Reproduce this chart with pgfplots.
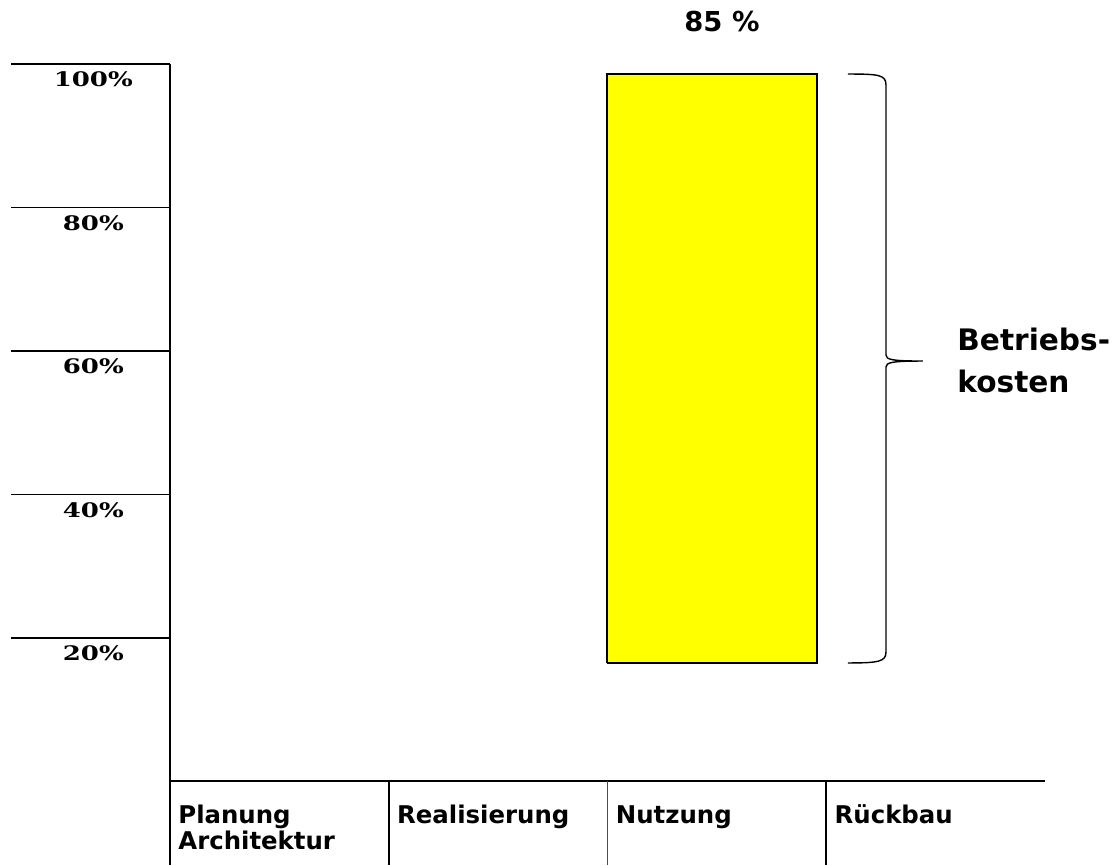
\documentclass[border=0pt]{standalone}
\usepackage{fontspec}
\setmainfont{DejaVu Sans}
\newfontfamily\tickfont{DejaVu Serif}
\usepackage{graphicx}
\usepackage{pgfplots}
\pgfplotsset{compat=1.18}
\definecolor{barYellow}{RGB}{255,255,0}
\newcommand{\xs}{\rule{0pt}{0.95em}}
\begin{document}
\begin{tikzpicture}
\begin{axis}[
  scale only axis, width=437.5pt, height=358.75pt,
  xmin=0, xmax=4, ymin=0, ymax=100, enlargelimits=false, clip=false,
  axis lines=left, axis line style={-, line width=1pt, black},
  ytick={20,40,60,80,100},
  yticklabels={\scalebox{1.3}[1]{20\%},\scalebox{1.3}[1]{40\%},\scalebox{1.3}[1]{60\%},\scalebox{1.3}[1]{80\%},\scalebox{1.3}[1]{100\%}},
  ytick align=outside, major tick length=79.5pt,
  ytick style={line width=0.8pt, black},
  yticklabel style={font=\tickfont\bfseries\fontsize{10}{10}\selectfont, anchor=center, inner sep=0pt, xshift=41.15pt, yshift=-7.65pt},
  xtick={0,1,2,3},
  xtick align=inside,
  xtick style={draw=none},
  xticklabels={{\xs Planung\\Architektur},\xs Realisierung,\xs Nutzung,\xs Rückbau},
  xticklabel style={font=\bfseries\fontsize{12.2}{11.8}\selectfont, anchor=north west, align=left, inner sep=0pt, xshift=4pt, yshift=-9.4pt},
]
\addplot[fill=barYellow, draw=black, line width=1pt] coordinates {(2,16.5) (2.96,16.5) (2.96,98.6) (2,98.6) (2,16.5)};
% extended lines below the axis
\draw[line width=1pt] (0,0) -- (0,-11.64);
\draw[line width=1pt] (1,0) -- (1,-11.64);
\draw[line width=0.8pt, black!70] (2,0) -- (2,-11.64);
\draw[line width=1pt] (3,0) -- (3,-11.64);
% brace
\draw[line width=0.7pt] (3.0994,98.6) .. controls (3.24,98.6) and (3.2731,98.5) .. (3.2731,97.07) -- (3.2731,59.44) .. controls (3.2731,58.8) and (3.30,58.6) .. (3.4423,58.6) .. controls (3.30,58.6) and (3.2731,58.4) .. (3.2731,57.77) -- (3.2731,18.05) .. controls (3.2731,16.7) and (3.24,16.52) .. (3.0994,16.52);
\node[anchor=north west, inner sep=0pt, align=left, font=\bfseries\fontsize{14.8}{21}\selectfont] at (3.5977,63.27) {Betriebs-\\kosten};
\node[anchor=base, inner sep=0pt, font=\bfseries\fontsize{13.7}{16}\selectfont] at (2.5234,104.5) {85 \%};
\coordinate (tl) at (-0.7771,108.92);
\coordinate (br) at (4.3429,-11.64);
\end{axis}
\pgfresetboundingbox
\useasboundingbox (tl) rectangle (br);
\end{tikzpicture}
\end{document}
